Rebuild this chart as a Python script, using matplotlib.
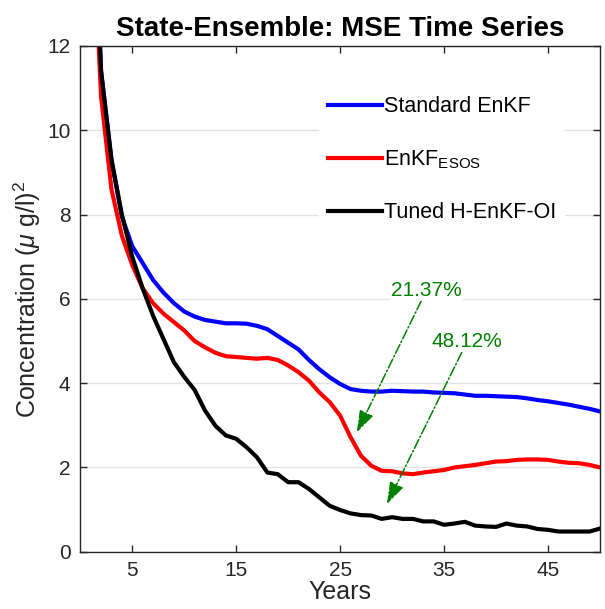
import matplotlib
matplotlib.use('Agg')
import matplotlib.pyplot as plt
import matplotlib.ticker as ticker
import numpy as np

plt.rcParams['font.family'] = ['Liberation Sans', 'DejaVu Sans']
plt.rcParams['mathtext.fontset'] = 'custom'
plt.rcParams['mathtext.rm'] = 'Liberation Sans'
plt.rcParams['mathtext.it'] = 'Liberation Sans:italic'
plt.rcParams['mathtext.bf'] = 'Liberation Sans:bold'

years = np.arange(1, 51)

standard_enkf = [17.0, 11.4, 9.3, 7.95, 7.25, 6.85, 6.45, 6.15, 5.9, 5.7,
                 5.58, 5.5, 5.46, 5.42, 5.42, 5.41, 5.36, 5.28, 5.12, 4.96,
                 4.8, 4.55, 4.33, 4.14, 3.98, 3.86, 3.82, 3.8, 3.8, 3.82,
                 3.81, 3.8, 3.8, 3.78, 3.77, 3.76, 3.73, 3.7, 3.7, 3.69,
                 3.68, 3.67, 3.64, 3.6, 3.57, 3.53, 3.49, 3.44, 3.39, 3.33]

enkf_esos = [16.0, 10.8, 8.6, 7.5, 6.8, 6.25, 5.9, 5.65, 5.45, 5.25,
             5.0, 4.85, 4.72, 4.64, 4.62, 4.6, 4.58, 4.6, 4.55, 4.42,
             4.26, 4.06, 3.78, 3.55, 3.23, 2.72, 2.28, 2.04, 1.92, 1.91,
             1.86, 1.84, 1.88, 1.91, 1.94, 2.0, 2.03, 2.06, 2.1, 2.14,
             2.15, 2.18, 2.19, 2.19, 2.18, 2.14, 2.11, 2.1, 2.06, 2.0]

tuned_henkf_oi = [17.4, 11.4, 9.3, 8.0, 7.0, 6.25, 5.6, 5.05, 4.5, 4.15,
                  3.84, 3.35, 2.99, 2.76, 2.68, 2.48, 2.24, 1.88, 1.84, 1.65,
                  1.65, 1.49, 1.29, 1.09, 0.99, 0.91, 0.87, 0.86, 0.78, 0.82,
                  0.78, 0.78, 0.72, 0.72, 0.64, 0.67, 0.71, 0.62, 0.6, 0.59,
                  0.67, 0.62, 0.6, 0.54, 0.52, 0.48, 0.48, 0.48, 0.48, 0.55]

# improvement annotations: label, arrow tip (year, value), text centre
notes = ['21.37%', '48.12%']
note_tips = [(26.6, 2.83), (29.5, 1.13)]
note_texts = [(33.3, 6.2), (37.2, 4.98)]

x_ticks = [5, 15, 25, 35, 45]
y_ticks = [0, 2, 4, 6, 8, 10, 12]

fig = plt.figure(figsize=(6.05, 6.09), dpi=100)
ax = fig.add_axes([0.1327, 0.094, 0.859, 0.8305])

ax.plot(years, standard_enkf, color='#0000ff', lw=3, label='Standard EnKF')
ax.plot(years, enkf_esos, color='#ff0000', lw=3, label=r'EnKF$_{\mathrm{ESOS}}$')
ax.plot(years, tuned_henkf_oi, color='black', lw=3, label='Tuned H-EnKF-OI')

ax.set_xlim(0, 50)
ax.set_ylim(0, 12)
ax.xaxis.set_major_locator(ticker.FixedLocator(x_ticks))
ax.yaxis.set_major_locator(ticker.FixedLocator(y_ticks))
ax.grid(axis='y', color='#e3e3e3', lw=1)
ax.set_axisbelow(True)
ax.tick_params(direction='in', top=True, right=True, labelsize=15,
               colors='#262626', length=5, width=1)
ax.tick_params(axis='x', pad=7)
ax.tick_params(axis='y', pad=7)
for s in ax.spines.values():
    s.set_color('#262626')
    s.set_linewidth(1)

ax.set_title('State-Ensemble: MSE Time Series', fontsize=20, fontweight='bold', pad=7)
ax.set_xlabel('Years', fontsize=18, color='#262626', labelpad=0)
ax.set_ylabel(r'Concentration ($\mu$ g/l)$^2$', fontsize=18, color='#262626', labelpad=3)

leg = ax.legend(loc='upper left', bbox_to_anchor=(0.46, 0.918), frameon=True,
                fontsize=15.5, handlelength=2.5, handletextpad=0.1,
                labelspacing=1.45, borderpad=0.4, borderaxespad=0)
leg.get_frame().set_facecolor('white')
leg.get_frame().set_edgecolor('none')
leg.get_frame().set_alpha(1)

for label, tip, pos in zip(notes, note_tips, note_texts):
    ax.annotate(label, xy=tip, xytext=pos, ha='center', va='center',
                fontsize=15, color='#008000',
                bbox=dict(boxstyle='square,pad=0.05', fc='white', ec='none'),
                arrowprops=dict(arrowstyle='-|>,head_length=0.9,head_width=0.3',
                                color='#008000', lw=1.1, linestyle='-.',
                                shrinkA=0, shrinkB=0))

fig.savefig('out.png', dpi=100)
